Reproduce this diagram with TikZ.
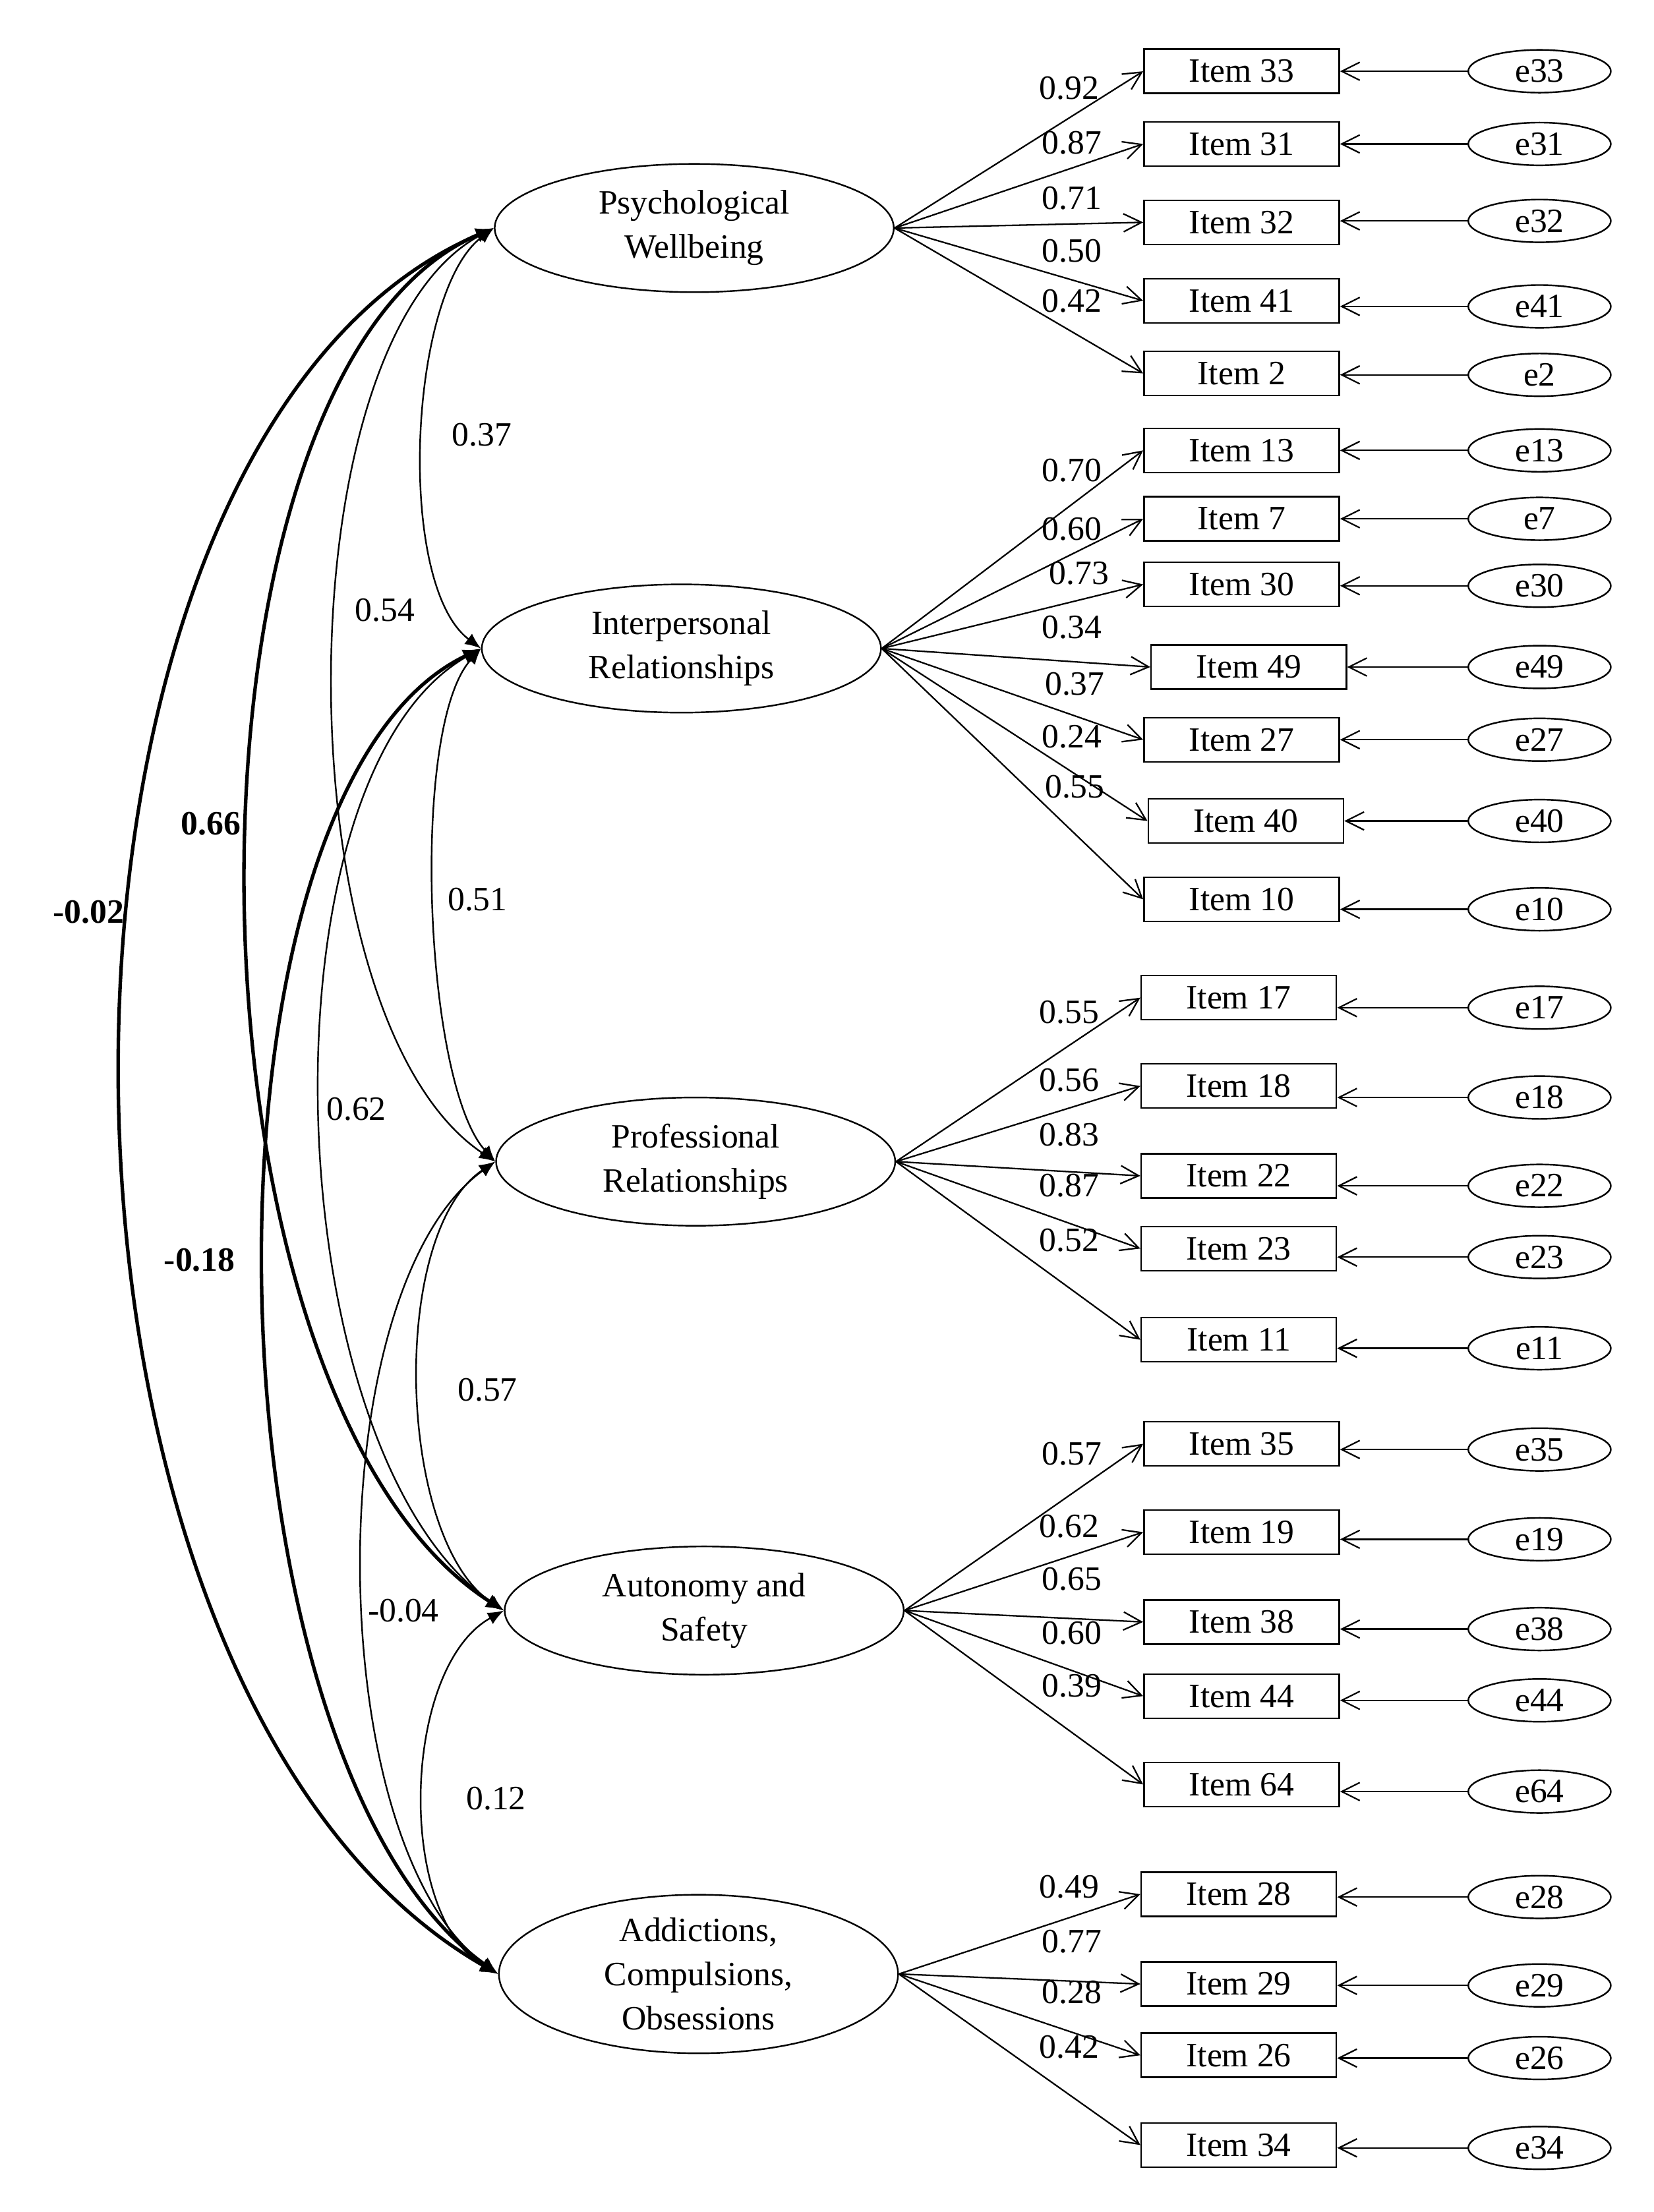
\documentclass[tikz,border=0pt]{standalone}
\usepackage{fontspec}
\setmainfont{Liberation Serif}
\usetikzlibrary{shapes.geometric,arrows.meta}
\begin{document}
\begin{tikzpicture}[x=0.05cm,y=-0.05cm,
  every node/.style={font=\fontsize{34}{44}\selectfont},
  lat/.style={ellipse,draw,line width=1.6pt,minimum width=14cm,minimum height=4.5cm,inner sep=0pt,align=center},
  itm/.style={rectangle,draw,line width=1.6pt,minimum width=6.85cm,minimum height=1.55cm,inner sep=0pt},
  err/.style={ellipse,draw,line width=1.6pt,minimum width=5cm,minimum height=1.5cm,inner sep=0pt},
  ld/.style={line width=1.5pt,-{Straight Barb[length=18pt,width=18pt]}},
  cov/.style={line width=1.6pt,{Latex[length=16pt,width=13pt]}-{Latex[length=16pt,width=13pt]}},
  bcov/.style={line width=3.5pt,{Latex[length=18pt,width=15pt]}-{Latex[length=18pt,width=15pt]}},
  lab/.style={inner sep=1pt}]
\useasboundingbox (0,0) rectangle (1160,1552);
\node[lat] (pw) at (487,160) {Psychological\\Wellbeing};
\node[lat] (ir) at (478,455) {Interpersonal\\Relationships};
\node[lat] (pr) at (488,815) {Professional\\Relationships};
\node[lat] (as) at (494,1130) {Autonomy and\\Safety};
\node[lat,minimum height=5cm] (ac) at (490,1385) {Addictions,\\Compulsions,\\Obsessions};
\foreach \n/\ix/\iy/\ey/\l/\lx/\ly/\f in {
33/871/50/50/0.92/750/62/pw, 31/871/101/101/0.87/752/100/pw, 32/871/156/155/0.71/752/139/pw, 41/871/211/215/0.50/752/176/pw, 2/871/262/263/0.42/752/211/pw,
13/871/316/316/0.70/752/330/ir, 7/871/364/364/0.60/752/371/ir, 30/871/410/411/0.73/757/402/ir, 49/876/468/468/0.34/752/440/ir, 27/871/519/519/0.37/754/480/ir, 40/874/576/576/0.24/752/517/ir, 10/871/631/638/0.55/754/552/ir,
17/869/700/707/0.55/750/710/pr, 18/869/762/770/0.56/750/758/pr, 22/869/825/832/0.83/750/796/pr, 23/869/876/882/0.87/750/832/pr, 11/869/940/946/0.52/750/870/pr,
35/871/1013/1017/0.57/752/1020/as, 19/871/1075/1080/0.62/750/1071/as, 38/871/1138/1143/0.65/752/1108/as, 44/871/1190/1193/0.60/752/1146/as, 64/871/1252/1257/0.39/752/1183/as,
28/869/1329/1331/0.49/750/1324/ac, 29/869/1392/1393/0.77/752/1362/ac, 26/869/1442/1444/0.28/752/1398/ac, 34/869/1505/1507/0.42/750/1436/ac}{
  \node[itm] (i\n) at (\ix,\iy) {Item \n};
  \node[err] (e\n) at (1080,\ey) {e\n};
  \draw[ld] (\f.east) -- (i\n.west);
  \draw[ld] (e\n.west) -- (e\n.west -| i\n.east);
  \node[lab] at (\lx,\ly) {\l};
}
\draw[cov] (pw.west) .. controls +(-60,45) and +(-60,-45) .. (ir.west);
\draw[cov] (ir.west) .. controls +(-50,55) and +(-50,-55) .. (pr.west);
\draw[cov] (pr.west) .. controls +(-75,50) and +(-75,-50) .. (as.west);
\draw[cov] (as.west) .. controls +(-72,40) and +(-72,-40) .. (ac.west);
\draw[cov] (pw.west) .. controls +(-150,80) and +(-150,-100) .. (pr.west);
\draw[cov] (ir.west) .. controls +(-160,90) and +(-160,-110) .. (as.west);
\draw[cov] (pr.west) .. controls +(-125,90) and +(-125,-90) .. (ac.west);
\draw[bcov] (pw.west) .. controls +(-235,100) and +(-235,-150) .. (as.west);
\draw[bcov] (ir.west) .. controls +(-210,100) and +(-210,-150) .. (ac.west);
\draw[bcov] (pw.west) .. controls +(-350,150) and +(-350,-200) .. (ac.west);
\node[lab] at (338,305) {0.37};
\node[lab] at (335,631) {0.51};
\node[lab] at (342,975) {0.57};
\node[lab] at (348,1262) {0.12};
\node[lab] at (270,428) {0.54};
\node[lab] at (250,778) {0.62};
\node[lab] at (283,1130) {-0.04};
\node[lab,font=\fontsize{34}{44}\selectfont\bfseries] at (148,578) {0.66};
\node[lab,font=\fontsize{34}{44}\selectfont\bfseries] at (140,884) {-0.18};
\node[lab,font=\fontsize{34}{44}\selectfont\bfseries] at (62,640) {-0.02};
\end{tikzpicture}
\end{document}
